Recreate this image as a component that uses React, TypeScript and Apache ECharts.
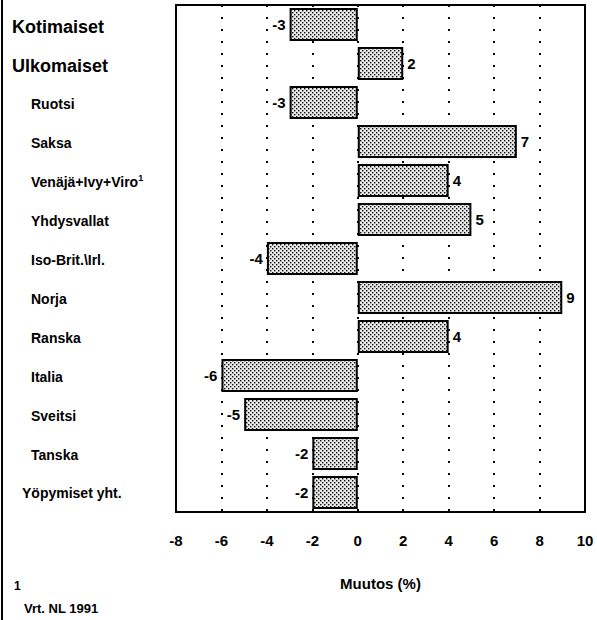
import React, { useEffect, useRef } from "react";
import * as echarts from "echarts";

const categories = [
  "Kotimaiset",
  "Ulkomaiset",
  "Ruotsi",
  "Saksa",
  "Venäjä+Ivy+Viro",
  "Yhdysvallat",
  "Iso-Brit.\\Irl.",
  "Norja",
  "Ranska",
  "Italia",
  "Sveitsi",
  "Tanska",
  "Yöpymiset yht.",
];
const values = [-3, 2, -3, 7, 4, 5, -4, 9, 4, -6, -5, -2, -2];
const topGroup = ["Kotimaiset", "Ulkomaiset"];
const totalGroup = ["Yöpymiset yht."];
const footnoteCategory = "Venäjä+Ivy+Viro";
const xTicks = { min: -8, max: 10, interval: 2 };
const axisTitle = "Muutos (%)";
const footnoteMark = "1";
const footnoteText = "Vrt. NL 1991";

const FONT = "'Liberation Sans', Arial, sans-serif";

const dotSvg =
  "data:image/svg+xml;utf8," +
  encodeURIComponent(
    "<svg xmlns='http://www.w3.org/2000/svg' width='4' height='4'><rect width='4' height='4' fill='#e8e8e8'/><rect x='0' y='0' width='1.4' height='1.4' fill='#111'/><rect x='2' y='2' width='1.4' height='1.4' fill='#111'/></svg>"
  );

export default function App() {
  const ref = useRef<HTMLDivElement>(null);
  useEffect(() => {
    if (!ref.current) return;
    const chart = echarts.init(ref.current, undefined, { renderer: "svg" });
    const pattern = { image: dotSvg, repeat: "repeat" };
    const txt = (size: number) => ({
      fontFamily: FONT,
      fontWeight: "bold",
      fontSize: size,
      color: "#000",
    });
    chart.setOption({
      animation: false,
      backgroundColor: "#ffffff",
      grid: {
        left: 176,
        right: 12,
        top: 5,
        height: 507,
        show: true,
        borderColor: "#000",
        borderWidth: 2,
        containLabel: false,
      },
      xAxis: {
        type: "value",
        min: xTicks.min,
        max: xTicks.max,
        interval: xTicks.interval,
        axisLine: { show: false },
        axisTick: { show: false },
        splitLine: {
          show: true,
          lineStyle: { color: "#000", width: 2, type: [2, 10] },
        },
        axisLabel: { margin: 21, ...txt(15) },
        name: axisTitle,
        nameLocation: "middle",
        nameGap: 64,
        nameTextStyle: txt(15),
      },
      yAxis: {
        type: "category",
        data: categories,
        inverse: true,
        axisLine: { show: false },
        axisTick: { show: false },
        splitLine: { show: false },
        axisLabel: {
          align: "left",
          margin: 164,
          color: "#000",
          formatter: (v: string) => {
            if (topGroup.includes(v)) return `{top|${v}}`;
            if (totalGroup.includes(v)) return `{tot|${v}}`;
            if (v === footnoteCategory) return `{c|${v}}{sup|${footnoteMark}}`;
            return `{c|${v}}`;
          },
          rich: {
            top: { ...txt(18), padding: [4, 0, 0, 0] },
            c: { ...txt(14), padding: [3, 0, 0, 19] },
            tot: { ...txt(14), padding: [0, 0, 0, 10] },
            sup: { ...txt(9), padding: [0, 0, 6, 0] },
          },
        },
      },
      series: [
        {
          type: "bar",
          barCategoryGap: "15%",
          data: values.map((v) => ({
            value: v,
            label: { position: v < 0 ? "left" : "right" },
          })),
          itemStyle: {
            color: pattern,
            borderColor: "#000",
            borderWidth: 2,
          },
          label: { show: true, distance: 4, ...txt(15) },
        },
      ],
      graphic: [
        {
          type: "line",
          shape: { x1: 2, y1: 0, x2: 2, y2: 620 },
          style: { stroke: "#000", lineWidth: 2 },
        },
        {
          type: "text",
          left: 14,
          top: 580,
          style: { text: footnoteMark, font: `bold 12px ${FONT}`, fill: "#000" },
        },
        {
          type: "text",
          left: 24,
          top: 602,
          style: { text: footnoteText, font: `bold 13px ${FONT}`, fill: "#000" },
        },
      ],
    });
    return () => chart.dispose();
  }, []);
  return <div ref={ref} style={{ width: 597, height: 620, position: "absolute", left: 0, top: 0 }} />;
}
